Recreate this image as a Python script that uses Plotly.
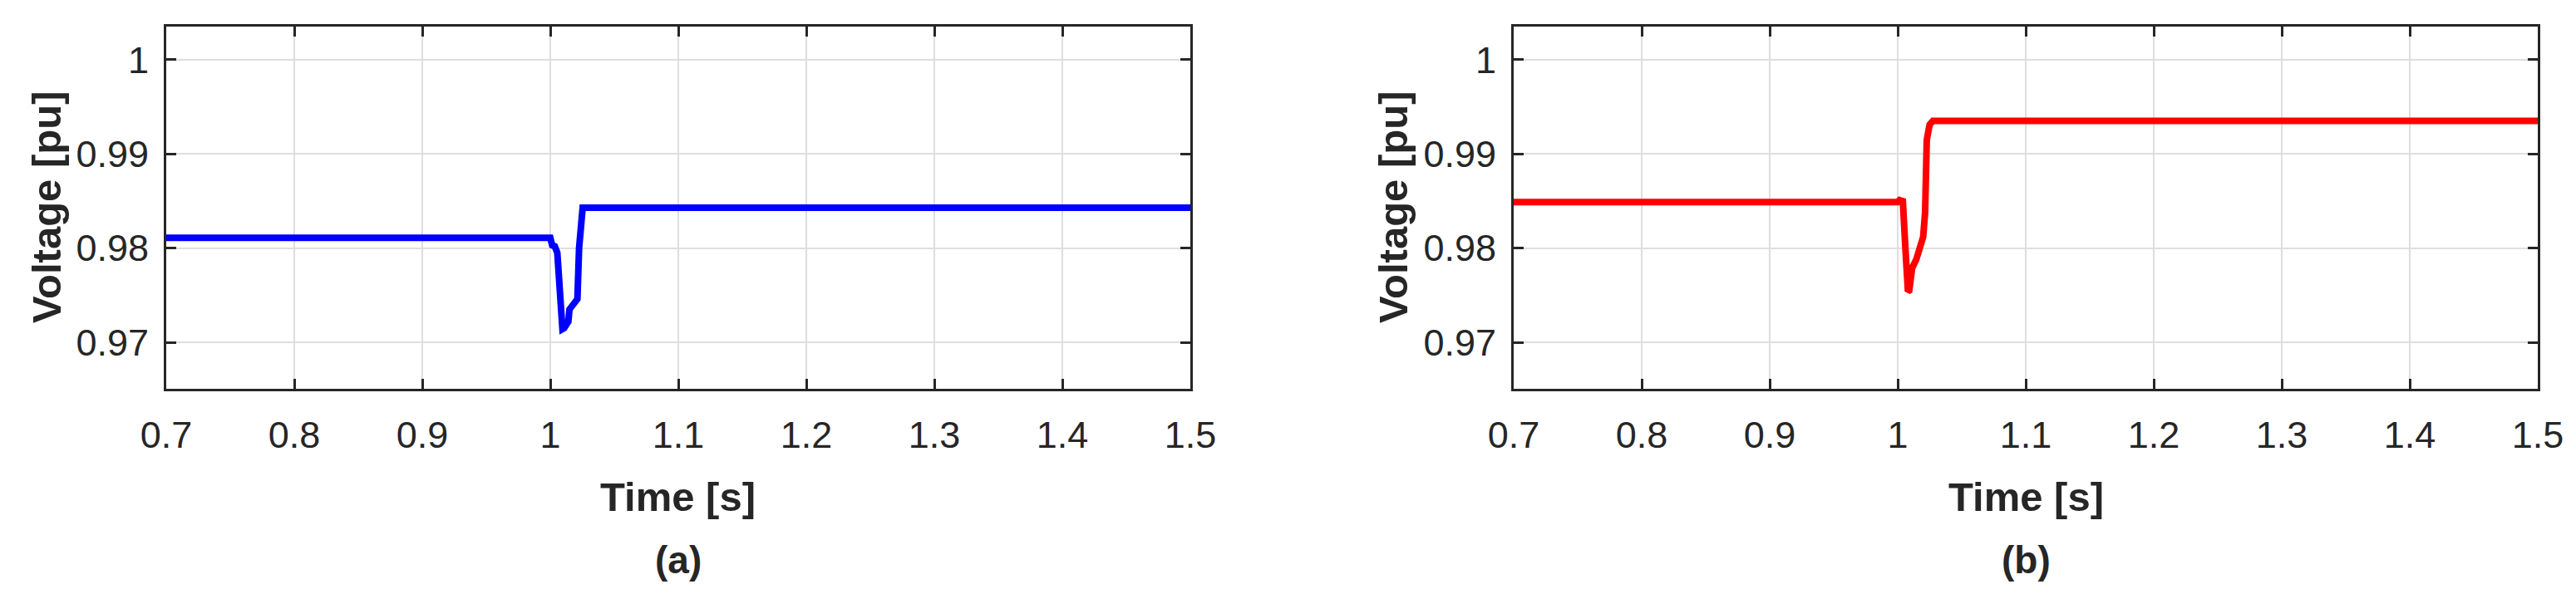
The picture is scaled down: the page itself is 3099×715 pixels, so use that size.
import plotly.graph_objects as go

# ---- data ----
time_a = [0.7, 1.0, 1.0015, 1.0035, 1.0055, 1.0082, 1.0095, 1.0108, 1.0141, 1.0150,
          1.0165, 1.0184, 1.0212, 1.0225, 1.0253, 1.5]
volt_a = [0.9811, 0.9811, 0.9803, 0.9802, 0.9795, 0.9716, 0.9714, 0.9715, 0.9722, 0.9735,
          0.9738, 0.9742, 0.9746, 0.9800, 0.9843, 0.9843]

time_b = [0.7, 1.0, 1.0015, 1.0040, 1.0060, 1.0080, 1.0090, 1.0113, 1.0145, 1.0199,
          1.0214, 1.0227, 1.0249, 1.0275, 1.5]
volt_b = [0.9849, 0.9849, 0.9851, 0.9850, 0.9800, 0.9754, 0.9755, 0.9779, 0.9788, 0.9812,
          0.9838, 0.9915, 0.9931, 0.9935, 0.9935]

x_tickvals = [0.7, 0.8, 0.9, 1.0, 1.1, 1.2, 1.3, 1.4, 1.5]
x_ticktext = ["0.7", "0.8", "0.9", "1", "1.1", "1.2", "1.3", "1.4", "1.5"]
y_tickvals = [0.97, 0.98, 0.99, 1.0]
y_ticktext = ["0.97", "0.98", "0.99", "1"]

W, H = 3099, 715
FONT = "Arial, Liberation Sans, Helvetica, sans-serif"
TXT = "#262626"

fig = go.Figure()
fig.add_trace(go.Scatter(x=time_a, y=volt_a, mode="lines",
                         line=dict(color="#0000ff", width=8), xaxis="x", yaxis="y",
                         showlegend=False))
fig.add_trace(go.Scatter(x=time_b, y=volt_b, mode="lines",
                         line=dict(color="#ff0000", width=8), xaxis="x2", yaxis="y2",
                         showlegend=False))

# pixel positions of the axes boxes
left_a, right_a = 192, 1424
left_b, right_b = 1813, 3045
top, bottom = 24, 460

def px_x(p):
    return p / W

def px_y(p):
    return 1 - p / H

common_x = dict(range=[0.7, 1.5], tickvals=x_tickvals, ticktext=x_ticktext,
                showgrid=True, gridcolor="#dedede", gridwidth=2,
                showline=True, linecolor=TXT, linewidth=3, mirror="ticks",
                ticks="inside", ticklen=12, tickwidth=3, tickcolor=TXT,
                tickfont=dict(family=FONT, size=45, color=TXT),
                ticklabelstandoff=14, zeroline=False, fixedrange=True,
                automargin=False)
common_y = dict(range=[0.96507, 1.00352], tickvals=y_tickvals, ticktext=y_ticktext,
                showgrid=True, gridcolor="#dedede", gridwidth=2,
                showline=True, linecolor=TXT, linewidth=3, mirror="ticks",
                ticks="inside", ticklen=12, tickwidth=3, tickcolor=TXT,
                tickfont=dict(family=FONT, size=45, color=TXT),
                ticklabelstandoff=9, zeroline=False, fixedrange=True,
                automargin=False)

fig.update_layout(
    width=W, height=H,
    margin=dict(l=0, r=0, t=0, b=0, autoexpand=False),
    paper_bgcolor="white", plot_bgcolor="white",
    xaxis=dict(domain=[px_x(left_a), px_x(right_a)], anchor="y", **common_x),
    yaxis=dict(domain=[px_y(bottom), px_y(top)], anchor="x", **common_y),
    xaxis2=dict(domain=[px_x(left_b), px_x(right_b)], anchor="y2", **common_x),
    yaxis2=dict(domain=[px_y(bottom), px_y(top)], anchor="x2", **common_y),
)

labels = [
    ("<b>Voltage [pu]</b>", 48, 242, -90, 49),
    ("<b>Voltage [pu]</b>", 1668, 242, -90, 49),
    ("<b>Time [s]</b>", (left_a + right_a) / 2, 590, 0, 49),
    ("<b>Time [s]</b>", (left_b + right_b) / 2, 590, 0, 49),
    ("<b>(a)</b>", (left_a + right_a) / 2, 666, 0, 46),
    ("<b>(b)</b>", (left_b + right_b) / 2, 666, 0, 46),
]
for text, x, y, ang, size in labels:
    fig.add_annotation(text=text, x=px_x(x), y=px_y(y), xref="paper", yref="paper",
                       xanchor="center", yanchor="middle", showarrow=False,
                       textangle=ang, font=dict(family=FONT, size=size, color=TXT))

fig.write_html("out.html")
